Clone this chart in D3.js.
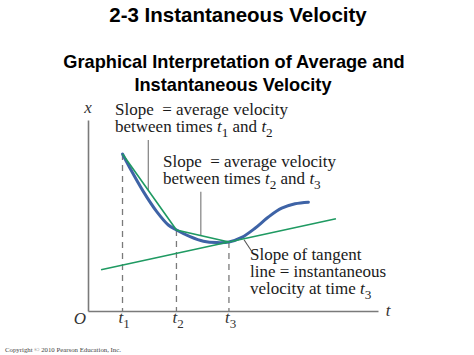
<!DOCTYPE html>
<html><head><meta charset="utf-8">
<script src="https://cdn.jsdelivr.net/npm/d3@7"></script>
<style>body{margin:0;background:#fff}svg{display:block}</style>
</head><body><svg id="c" width="474" height="355"></svg>
<script>
// ---- data (time t, position x) ----
const curveT = [1.19, 1.45, 1.91, 2.37, 2.77, 3.05, 3.52, 3.98, 4.44, 4.86, 5.30, 5.76, 6.22, 6.68, 7.14, 7.60];
const curveX = [7.85, 7.14, 5.97, 4.97, 4.30, 4.05, 3.72, 3.49, 3.42, 3.45, 3.68, 4.14, 4.70, 5.14, 5.36, 5.44];
const markTimes = [1.19, 3.05, 4.86];
const markSubs = ["1", "2", "3"];
const tangentT = [0.45, 8.55];
const tangentX = [2.06, 4.61];
const leaderT = [2.08, 3.89];
const leaderTopX = [8.55, 5.96];

const svg = d3.select("#c");
const x = d3.scaleLinear().domain([0, 10]).range([88, 378]);
const y = d3.scaleLinear().domain([0, 10]).range([311, 111]);

const serif = "'Liberation Serif', 'Times New Roman', serif";
const sans = "'Liberation Sans', Arial, Helvetica, sans-serif";
const gray = "#7a7a7a";
const green = "#1f9a62";
const blue = "#3e63a6";

// titles
svg.append("text").attr("x", 238).attr("y", 22).attr("text-anchor", "middle")
  .attr("font-family", sans).attr("font-weight", "bold").attr("font-size", 20.5).text("2-3 Instantaneous Velocity");
const sub = svg.append("text").attr("x", 234).attr("y", 68).attr("text-anchor", "middle")
  .attr("font-family", sans).attr("font-weight", "bold").attr("font-size", 18.2);
sub.append("tspan").attr("x", 234).text("Graphical Interpretation of Average and");
sub.append("tspan").attr("x", 233).attr("dy", 22.5).text("Instantaneous Velocity");

// axes
const xAxis = d3.axisBottom(x).tickValues([]).tickSizeOuter(0);
const gx = svg.append("g").attr("transform", `translate(0,${y(0)})`).call(xAxis);
gx.select(".domain").attr("stroke", gray).attr("stroke-width", 1.6);
const yAxis = d3.axisLeft(y.copy().domain([0, 9.55]).range([y(0), y(9.55)])).tickValues([]).tickSizeOuter(0);
const gy = svg.append("g").attr("transform", `translate(${x(0)},0)`).call(yAxis);
gy.select(".domain").attr("stroke", gray).attr("stroke-width", 1.6);

// interpolate along curve
function curveAt(t) {
  const i = curveT.indexOf(t);
  if (i >= 0) return curveX[i];
  return d3.scaleLinear().domain(curveT).range(curveX)(t);
}
const markPts = markTimes.map(t => [t, curveAt(t)]);

// dashed drop lines
svg.append("g").selectAll("line").data(markPts).join("line")
  .attr("x1", d => x(d[0])).attr("x2", d => x(d[0]))
  .attr("y1", d => y(d[1])).attr("y2", y(0))
  .attr("stroke", gray).attr("stroke-width", 1.3).attr("stroke-dasharray", "6,5");

// leader lines (gray)
function chordAt(t) {
  for (let i = 0; i < markPts.length - 1; i++) {
    const a = markPts[i], b = markPts[i + 1];
    if (t >= a[0] && t <= b[0]) return a[1] + (b[1] - a[1]) * (t - a[0]) / (b[0] - a[0]);
  }
  return null;
}
svg.append("g").selectAll("line").data(leaderT).join("line")
  .attr("x1", d => x(d)).attr("x2", d => x(d))
  .attr("y1", (d, i) => y(leaderTopX[i])).attr("y2", d => y(chordAt(d)))
  .attr("stroke", "#8a8a8a").attr("stroke-width", 1.3);
const tanAt = t => tangentX[0] + (tangentX[1] - tangentX[0]) * (t - tangentT[0]) / (tangentT[1] - tangentT[0]);
svg.append("line").attr("x1", x(5.38)).attr("y1", y(tanAt(5.38)) + 1)
  .attr("x2", 251.5).attr("y2", 251).attr("stroke", "#555").attr("stroke-width", 1.1);

// blue curve
const line = d3.line().x(d => x(d)).y((d, i) => y(curveX[i])).curve(d3.curveCatmullRom.alpha(0.5));
svg.append("path").attr("d", line(curveT)).attr("fill", "none")
  .attr("stroke", blue).attr("stroke-width", 3).attr("stroke-linecap", "round");

// green chords and tangent
const gline = d3.line().x(d => x(d[0])).y(d => y(d[1]));
svg.append("path").attr("d", gline(markPts)).attr("fill", "none").attr("stroke", green).attr("stroke-width", 1.6);
svg.append("path").attr("d", gline(tangentT.map((t, i) => [t, tangentX[i]]))).attr("fill", "none")
  .attr("stroke", green).attr("stroke-width", 1.6);

// multi-line rich text: lines = [[ [text, kind], ... ], ...]  kind: "" normal, "i" italic, "s" subscript
function rich(px, py, lines, size, lh) {
  const t = svg.append("text").attr("x", px).attr("y", py)
    .attr("font-family", serif).attr("font-size", size).attr("fill", "#1a1a1a");
  let shift = 0;
  lines.forEach((parts, li) => {
    parts.forEach(([s, k], pi) => {
      const sp = t.append("tspan").text(s);
      let dy = 0;
      if (pi === 0 && li > 0) { sp.attr("x", px); dy += lh - shift; shift = 0; }
      if (k === "s") { sp.attr("font-size", size * 0.78); dy += 5 - shift; shift = 5; }
      else { dy += -shift; shift = 0; if (k === "i") sp.attr("font-style", "italic"); }
      if (dy !== 0) sp.attr("dy", dy);
    });
  });
  return t;
}
const fs = 17, lh = 17;
rich(115, 115, [[["Slope\u2002= average velocity", ""]],
  [["between times ", ""], ["t", "i"], ["1", "s"], [" and ", ""], ["t", "i"], ["2", "s"]]], fs, lh);
rich(163, 167, [[["Slope\u2002= average velocity", ""]],
  [["between times ", ""], ["t", "i"], ["2", "s"], [" and ", ""], ["t", "i"], ["3", "s"]]], fs, lh);
rich(250, 260, [[["Slope of tangent", ""]], [["line = instantaneous", ""]],
  [["velocity at time ", ""], ["t", "i"], ["3", "s"]]], fs, lh);

// axis labels
svg.append("text").attr("x", 88).attr("y", 113).attr("text-anchor", "middle")
  .attr("font-family", serif).attr("font-style", "italic").attr("font-size", 17).attr("fill", "#333").text("x");
svg.append("text").attr("x", 388).attr("y", 316).attr("text-anchor", "middle")
  .attr("font-family", serif).attr("font-style", "italic").attr("font-size", 17).attr("fill", "#333").text("t");
svg.append("text").attr("x", 80).attr("y", 324).attr("text-anchor", "middle")
  .attr("font-family", serif).attr("font-style", "italic").attr("font-size", 17).attr("fill", "#333").text("O");
markTimes.forEach((t, i) => {
  const tx = svg.append("text").attr("x", x(t) - 4).attr("y", 323)
    .attr("font-family", serif).attr("font-size", 17).attr("fill", "#333");
  tx.append("tspan").attr("font-style", "italic").text("t");
  tx.append("tspan").attr("font-size", 13).attr("dy", 5).text(markSubs[i]);
});

// copyright
svg.append("text").attr("x", 5).attr("y", 352).attr("font-family", serif).attr("font-size", 6.8)
  .attr("fill", "#444").text("Copyright \u00A9 2010 Pearson Education, Inc.");
</script></body></html>
